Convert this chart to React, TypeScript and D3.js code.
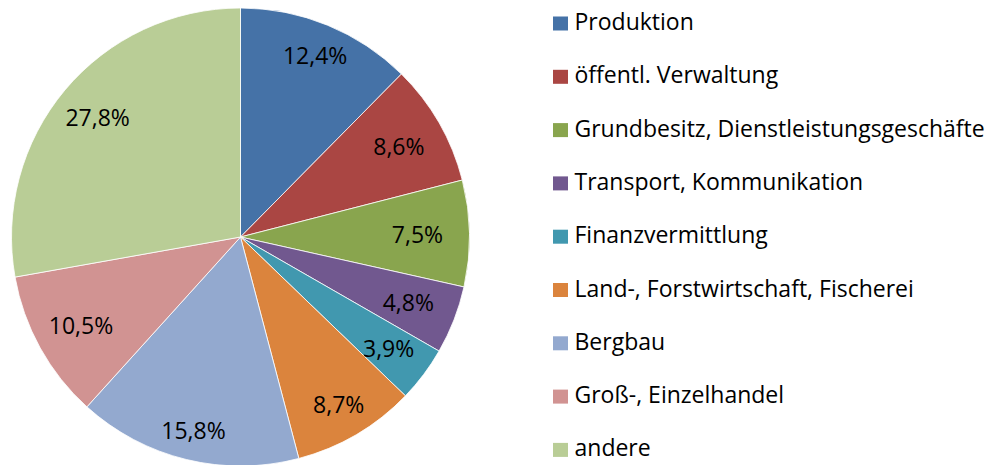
import React from "react";
import * as d3 from "d3";

const categories = [
  "Produktion",
  "öffentl. Verwaltung",
  "Grundbesitz, Dienstleistungsgeschäfte",
  "Transport, Kommunikation",
  "Finanzvermittlung",
  "Land-, Forstwirtschaft, Fischerei",
  "Bergbau",
  "Groß-, Einzelhandel",
  "andere",
];
const values = [12.4, 8.6, 7.5, 4.8, 3.9, 8.7, 15.8, 10.5, 27.8];
const colors = [
  "#4572A7",
  "#AA4643",
  "#89A54E",
  "#71588F",
  "#4198AF",
  "#DB843D",
  "#93A9CF",
  "#D19392",
  "#B9CD96",
];

const W = 992;
const H = 465;
const FONT = "'Open Sans', sans-serif";

export default function App() {
  const cx = 240.5;
  const cy = 237;
  const R = 229;
  const pie = d3.pie<number>().sort(null).value((d) => d);
  const arcs = pie(values);
  const arc = d3.arc<d3.PieArcDatum<number>>().innerRadius(0).outerRadius(R);
  const fmt = (v: number) => v.toFixed(1).replace(".", ",") + "%";

  const legendX = 553;
  const legendTop = 30;
  const legendStep = 53.3;

  return (
    <svg
      width={W}
      height={H}
      style={{ position: "absolute", left: 0, top: 0, background: "#fff" }}
    >
      <g transform={`translate(${cx},${cy})`}>
        {arcs.map((a, i) => (
          <path
            key={i}
            d={arc(a) || ""}
            fill={colors[i]}
            stroke="#fff"
            strokeWidth={0.8}
          />
        ))}
        {arcs.map((a, i) => {
          const mid = (a.startAngle + a.endAngle) / 2;
          const c = Math.cos(mid);
          const lr = R * (0.773 + 0.1 * c * c);
          const x = Math.sin(mid) * lr;
          const y = -Math.cos(mid) * lr;
          return (
            <text
              key={i}
              x={x}
              y={y}
              textAnchor="middle"
              dominantBaseline="central"
              fontFamily={FONT}
              fontSize={23}
              fill="#000"
            >
              {fmt(values[i])}
            </text>
          );
        })}
      </g>
      <g>
        {categories.map((c, i) => {
          const by = legendTop + i * legendStep;
          return (
            <g key={i}>
              <rect
                x={legendX}
                y={by - 13.5}
                width={15}
                height={14}
                fill={colors[i]}
              />
              <text
                x={legendX + 21.5}
                y={by}
                fontFamily={FONT}
                fontSize={23}
                fill="#000"
              >
                {c}
              </text>
            </g>
          );
        })}
      </g>
    </svg>
  );
}
